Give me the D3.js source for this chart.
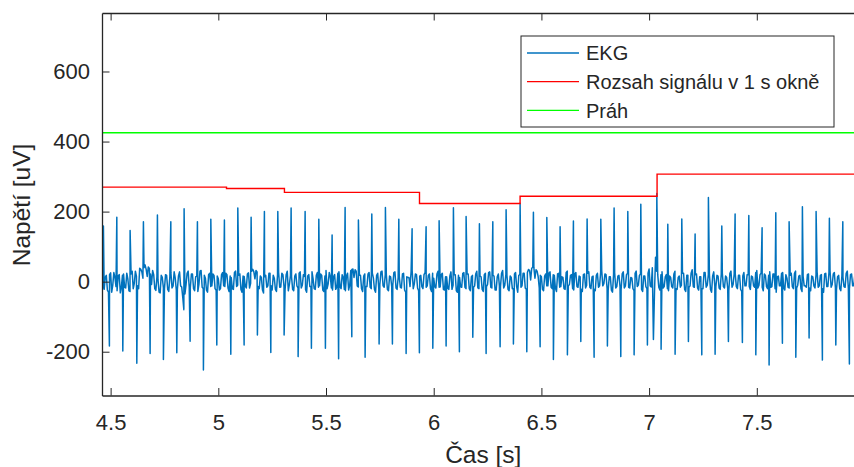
<!DOCTYPE html>
<html>
<head>
<meta charset="utf-8">
<script src="https://cdn.jsdelivr.net/npm/d3@7"></script>
<style>
  body { margin: 0; background: #fff; }
  svg { display: block; font-family: "Liberation Sans", Arial, sans-serif; }
</style>
</head>
<body>
<svg id="chart" width="854" height="467"></svg>
<script>
// QRS spikes (time in s, value in uV)
const rTimes = [4.4666, 4.5288, 4.5905, 4.6523, 4.7173, 4.7795, 4.8412, 4.9030, 4.9652, 5.0283,
  5.0905, 5.1523, 5.2140, 5.2762, 5.3380, 5.4030, 5.4666, 5.5283, 5.5887, 5.6504,
  5.7126, 5.7758, 5.8380, 5.8997, 5.9647, 6.0251, 6.0915, 6.1504, 6.2122, 6.2744,
  6.3361, 6.4011, 6.4629, 6.5251, 6.5868, 6.6486, 6.7122, 6.7758, 6.8375, 6.9011,
  6.9615, 7.0358, 7.0868, 7.1518, 7.2136, 7.2753, 7.3375, 7.3993, 7.4629, 7.5246,
  7.5882, 7.6500, 7.7117, 7.7753, 7.8370, 7.8993];
const rValues = [159, 184, 146, 171, 190, 171, 208, 171, 178, 176,
  210, 184, 200, 200, 210, 200, 178, 133, 212, 176,
  193, 212, 178, 151, 157, 174, 211, 186, 165, 171,
  205, 224, 198, 183, 157, 173, 179, 178, 210, 200,
  221, 252, 164, 179, 136, 240, 159, 193, 189, 154,
  197, 171, 214, 200, 181, 171];
const sTimes = [4.4944, 4.5566, 4.6216, 4.6834, 4.7451, 4.8073, 4.8691, 4.9308, 4.9930, 5.0580,
  5.1198, 5.1815, 5.2437, 5.3055, 5.3705, 5.4322, 5.4972, 5.5585, 5.6198, 5.6815,
  5.7465, 5.8083, 5.8719, 5.9336, 5.9958, 6.0576, 6.1193, 6.1815, 6.2433, 6.3083,
  6.3700, 6.4322, 6.4940, 6.5557, 6.6207, 6.6829, 6.7447, 6.8064, 6.8686, 6.9304,
  6.9921, 7.0557, 7.1207, 7.1825, 7.2447, 7.3064, 7.3682, 7.4331, 7.4954, 7.5571,
  7.6189, 7.6811, 7.7428, 7.8045, 7.8668, 7.9299];
const sValues = [-184, -198, -233, -205, -222, -203, -170, -252, -181, -207,
  -181, -152, -202, -152, -214, -190, -190, -220, -157, -216,
  -178, -178, -205, -203, -190, -184, -200, -159, -205, -186,
  -178, -200, -186, -222, -209, -171, -216, -184, -214, -209,
  -181, -193, -207, -171, -209, -207, -171, -174, -209, -238,
  -176, -216, -161, -224, -181, -235];

// baseline between spikes: samples every 10 ms from 4.46 s ...
const baseStart = 4.46;
const baseStep = 0.01;
const baseValues = [
  5, -22, 18, -30, 25, -10, 12, -26, 20, -15,
  22, -18, 8, -28, 30, -5, 15, -20, 35, 10,
  48, 15, 38, -8, 20, -25, 5, -32, 12, -20,
  18, -28, 25, -12, 10, -22, 28, -15, -80, -10,
  30, -18, 22, -26, 15, -8, 32, -20, 10, -30,
  24, -12, 18, -25, 8, -20, 26, -14, 20, -28,
  12, -22, 30, -10, 22, -30, 15, -18, 25, -5,
  35, 8, 28, -20, 12, -32, 18, -12, 24, -24,
  10, -28, 26, -15, 20, -22, 30, -8, 14, -26,
  22, -18, 28, -10, 15, -30, 20, -14, 8, -22,
  26, -12, 18, -28, 32, -6, 14, -24, 20, -16,
  28, -20, 12, -26, 24, -10, 35, 12, 30, -15,
  18, -28, 22, -14, 26, -20, 10, -30, 24, -8,
  30, -16, 20, -26, 14, -10, 28, -22, 16, -18,
  24, -30, 12, -14, 32, -6, 20, -26, 18, -20,
  26, -12, 22, -28, 10, -18, 30, -15, 24, -24,
  14, -22, 28, -10, 20, -30, 12, -16, 26, -20,
  22, -26, 18, -12, 30, -20, 14, -28, 24, -8,
  28, -18, 16, -24, 22, -14, 32, -10, 18, -26,
  12, -20, 26, -30, 20, -12, 24, -22, 35, 5,
  42, 10, 30, -18, 14, -26, 22, -12, 28, -20,
  18, -28, 24, -14, 12, -22, 30, -8, 20, -24,
  26, -16, 14, -28, 22, -10, 28, -20, 16, -26,
  24, -12, 32, -6, 20, -24, 14, -30, 26, -14,
  18, -22, 28, -12, 24, -18, 10, -26, 30, -10,
  22, -28, 16, -20, 36, -15, -165, 70, 20, -24,
  28, -14, 20, -26, 12, -18, 30, -22, 16, -10,
  24, -28, 18, -12, 34, -16, 22, -24, 14, -20,
  26, -10, 20, -30, 28, -14, 16, -22, 24, -18,
  12, -26, 30, -8, 22, -20, 18, -28, 26, -12,
  20, -22, 14, -16, 32, -10, 24, -26, 18, -20,
  28, -14, 22, -30, 16, -12, 26, -24, 10, -18,
  24, -20, 30, -10, 18, -28, -12, -16, 22, -26,
  14, -18, 28, -12, 20, -30, 24, -14, 32, -8,
  26, -22, 18, -26, 12, -16, 30, -20, 22, -12,
  18, -20, 24, -14
];
// ... and the samples halfway between them (from 4.465 s)
const midStart = 4.465;
const midValues = [
  -18, 12, -24, 20, -30, 26, -14, 16, -32, 18,
  -16, 24, -26, 22, -20, 30, -12, 38, 28, 40,
  35, 42, 22, 32, -20, 14, -30, 18, -18, 20,
  -22, 14, -18, 28, -24, 16, -12, -45, -35, 24,
  -16, 22, -20, 14, -28, 30, -16, 18, -24, 20,
  -14, 22, -20, 16, -24, 20, -12, 24, -18, 16,
  -20, 26, -14, 18, -22, 16, -12, 22, -18, 30,
  28, 32, -14, 16, -24, 14, -16, 24, -12, 18,
  -22, 20, -16, 24, -14, 20, -26, 18, -22, 16,
  -12, 24, -18, 20, -22, 16, -14, 28, -20, 18,
  -16, 22, -24, 16, -20, 26, -18, 14, -22, 24,
  -14, 20, -22, 16, -24, 32, 36, 34, -12, 18,
  -20, 16, -14, 22, -16, 24, -22, 18, -20, 28,
  -12, 20, -22, 16, -14, 26, -18, 12, -16, 22,
  -24, 14, 12, 28, -20, 22, -18, 16, -14, 20,
  -16, 18, -20, 24, -14, 22, -16, 20, -22, 14,
  -18, 16, -22, 20, -26, 18, -14, 24, -16, 22,
  -20, 14, -16, 22, -18, 16, -22, 20, -14, 26,
  -16, 18, -24, 14, -12, 24, -18, 20, -22, 16,
  -20, 22, -14, 18, -16, 24, -18, 26, 32, 38,
  40, 34, 14, 18, -22, 16, -12, 24, -16, 20,
  -18, 22, -16, 14, -20, 26, -12, 18, -20, 22,
  -14, 16, -22, 20, -18, 24, -16, 14, -22, 18,
  -16, 26, -12, 22, -20, 14, -24, 20, -18, 16,
  -14, 22, -18, 20, -16, 12, -20, 24, -14, 18,
  -22, 16, -14, 24, -12, 40, -30, 30, -16, 20,
  -18, 14, -20, 16, -14, 22, -20, 12, -16, 24,
  -22, 18, -16, 24, -14, 20, -18, 14, -20, 26,
  -16, 20, -22, 16, -12, 18, -18, 22, -14, 16,
  -20, 24, -16, 22, -14, 18, -22, 16, -12, 20,
  -14, 16, -12, 26, -18, 20, -16, 22, -14, 18,
  -16, 22, -20, 14, -12, 24, -18, 20, -16, 18,
  -14, 24, -18, 16, -20, 16, -12, 20, -18, 16,
  -12, 20, -16, 18, -20, 22, -14, 26, -16, 22,
  -18, 14, -20, 16, -14, 24, -18, 20, -12, 18,
  -16, 20, -14, 18
];

// range of signal in a 1 s window (step line) and threshold
const rangeTimes = [4.46, 5.038, 5.307, 5.934, 6.401, 7.037, 8.0];
const rangeValues = [270, 266, 255, 223, 244, 307, 307];
const thresholdTimes = [4.46, 8.0];
const thresholdValues = [425, 425];

const xTicks = [4.5, 5, 5.5, 6, 6.5, 7, 7.5];
const yTicks = [-200, 0, 200, 400, 600];
const legendLabels = ['EKG', 'Rozsah signálu v 1 s okně', 'Práh'];
const legendColors = ['#0072BD', '#FF0000', '#00FF00'];

const axisColor = '#262626';
const plot = { left: 102, top: 13, right: 864.5, bottom: 395.5 };

const svg = d3.select('#chart');

const x = d3.scaleLinear().domain([4.46, 8.0]).range([plot.left, plot.right]);
const y = d3.scaleLinear().domain([-325, 767]).range([plot.bottom, plot.top]);

// merge baseline + spikes into one time-ordered trace
const ekg = baseValues.map((v, i) => ({ t: baseStart + i * baseStep, v }))
  .concat(midValues.map((v, i) => ({ t: midStart + i * baseStep, v })))
  .concat(rTimes.map((t, i) => ({ t, v: rValues[i] })))
  .concat(sTimes.map((t, i) => ({ t, v: sValues[i] })))
  .sort((a, b) => a.t - b.t);

svg.append('defs').append('clipPath').attr('id', 'clip')
  .append('rect')
  .attr('x', plot.left).attr('y', plot.top)
  .attr('width', plot.right - plot.left).attr('height', plot.bottom - plot.top);

const g = svg.append('g').attr('clip-path', 'url(#clip)');

const line = d3.line().x(d => x(d.t)).y(d => y(d.v));

g.append('path')
  .datum(ekg)
  .attr('d', line)
  .attr('fill', 'none')
  .attr('stroke', legendColors[0])
  .attr('stroke-width', 1.5)
  .attr('stroke-linejoin', 'round');

g.append('path')
  .datum(rangeTimes.map((t, i) => ({ t, v: rangeValues[i] })))
  .attr('d', d3.line().x(d => x(d.t)).y(d => y(d.v)).curve(d3.curveStepAfter))
  .attr('fill', 'none')
  .attr('stroke', legendColors[1])
  .attr('stroke-width', 1.4);

g.append('path')
  .datum(thresholdTimes.map((t, i) => ({ t, v: thresholdValues[i] })))
  .attr('d', line)
  .attr('fill', 'none')
  .attr('stroke', legendColors[2])
  .attr('stroke-width', 1.4);

// axes (ticks pointing inward like matlab)
svg.append('g')
  .attr('transform', `translate(0, ${plot.bottom})`)
  .call(d3.axisBottom(x).tickValues(xTicks).tickSize(-7.5).tickSizeOuter(0)
    .tickPadding(19).tickFormat(d => String(d)));

svg.append('g')
  .attr('transform', `translate(0, ${plot.top})`)
  .call(d3.axisTop(x).tickValues(xTicks).tickSize(-7.5).tickSizeOuter(0).tickFormat(''));

svg.append('g')
  .attr('transform', `translate(${plot.left}, 0)`)
  .call(d3.axisLeft(y).tickValues(yTicks).tickSize(-7.5).tickSizeOuter(0)
    .tickPadding(12).tickFormat(d => String(d)));

svg.selectAll('.domain').attr('stroke', axisColor).attr('stroke-width', 1.3);
svg.selectAll('.tick line').attr('stroke', axisColor).attr('stroke-width', 1);
svg.selectAll('.tick text').attr('fill', axisColor).attr('font-size', 22)
  .attr('font-family', '"Liberation Sans", Arial, sans-serif');

svg.append('text')
  .attr('x', (plot.left + plot.right) / 2)
  .attr('y', 463)
  .attr('text-anchor', 'middle')
  .attr('font-size', 24.5)
  .attr('fill', axisColor)
  .text('Čas [s]');

svg.append('text')
  .attr('transform', 'translate(29.5, 205) rotate(-90)')
  .attr('text-anchor', 'middle')
  .attr('font-size', 24.5)
  .attr('fill', axisColor)
  .text('Napětí [uV]');

// legend
const legend = svg.append('g');
legend.append('rect')
  .attr('x', 521).attr('y', 36)
  .attr('width', 313).attr('height', 91)
  .attr('fill', '#fff')
  .attr('stroke', axisColor)
  .attr('stroke-width', 1);

legendLabels.forEach((label, i) => {
  const rowY = 53 + i * 28.7;
  legend.append('line')
    .attr('x1', 527).attr('x2', 579)
    .attr('y1', rowY).attr('y2', rowY)
    .attr('stroke', legendColors[i])
    .attr('stroke-width', 1.3);
  legend.append('text')
    .attr('x', 586).attr('y', rowY + 7.3)
    .attr('font-size', 20)
    .attr('fill', axisColor)
    .text(label);
});
</script>
</body>
</html>
